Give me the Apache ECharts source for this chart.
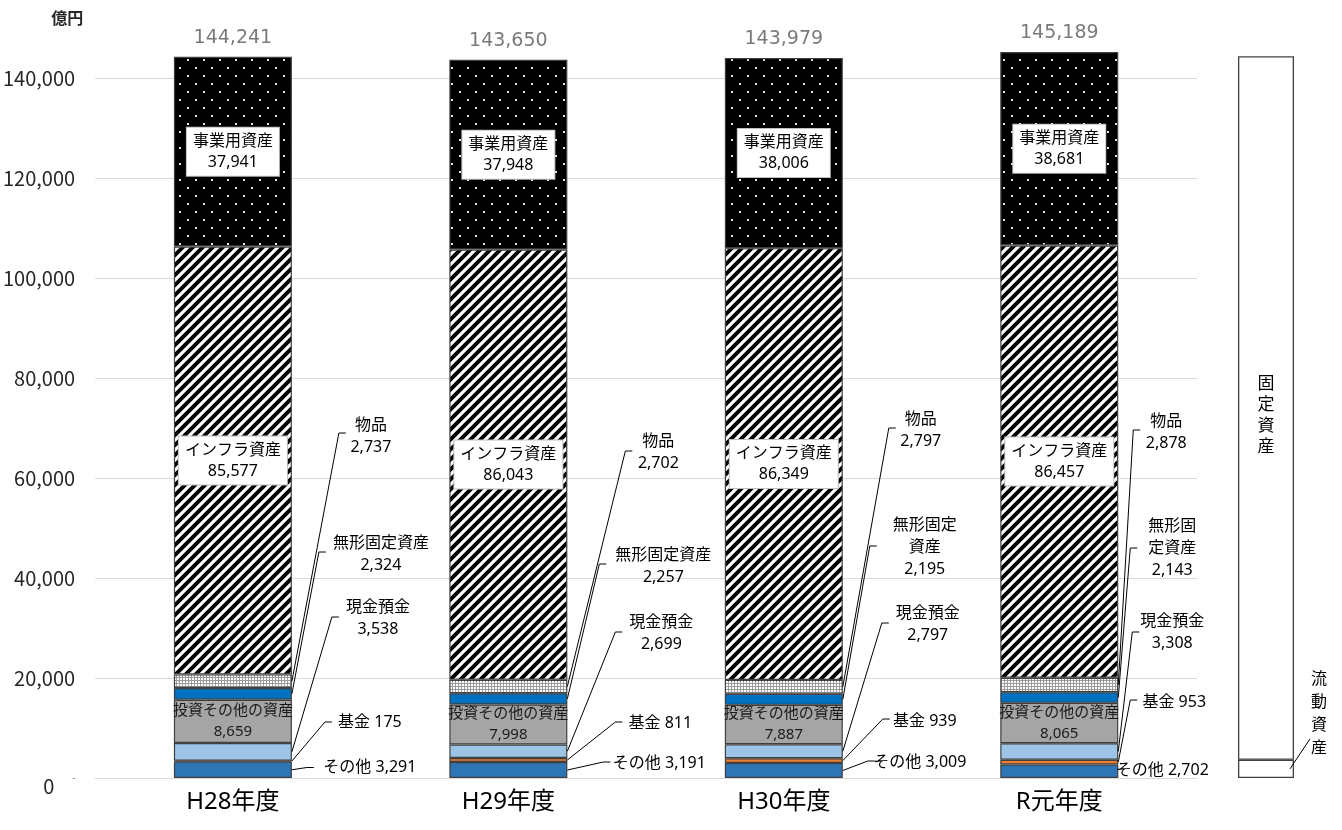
<!DOCTYPE html>
<html>
<head>
<meta charset="utf-8">
<script src="https://cdn.jsdelivr.net/npm/echarts@6/dist/echarts.min.js"></script>
<style>
  html, body { margin: 0; padding: 0; background: #fff; }
  #chart { width: 1342px; height: 830px; }
</style>
</head>
<body>
<div id="chart"></div>
<script>
// ---- data (億円) ----
const categories = ['H28年度', 'H29年度', 'H30年度', 'R元年度'];
const sonota = [3291, 3191, 3009, 2702];      // その他
const kikin  = [175, 811, 939, 953];          // 基金
const genkin = [3538, 2699, 2797, 3308];      // 現金預金
const toushi = [8659, 7998, 7887, 8065];      // 投資その他の資産
const mukei  = [2324, 2257, 2195, 2143];      // 無形固定資産
const buppin = [2737, 2702, 2797, 2878];      // 物品
const infra  = [85577, 86043, 86349, 86457];  // インフラ資産
const jigyou = [37941, 37948, 38006, 38681];  // 事業用資産
const totals = [144241, 143650, 143979, 145189];

// bracket on the right: 流動資産 / 固定資産
const bracketNames  = ['流動資産', '固定資産'];
const bracketValues = [3655, 140700];

// value axis
const yMin = 0, yMax = 150000, yStep = 20000;

// ---- layout ----
const FONT_JP  = "'Noto Sans CJK JP', sans-serif";
const FONT_MIX = "'Noto Sans', 'Noto Sans CJK JP', sans-serif";
const BAR_W = 118;
const fmt = v => Number(v).toLocaleString('en-US');

// callout label placement per category:
// [tick start dx from bar edge (px), tick value, text centre dx (px), text centre value]
const calloutLayout = [
  // 物品
  [[47, 69000, 79, 68400], [58, 65400, 91, 65100], [46, 70000, 78, 69600], [15, 69600, 48, 69200]],
  // 無形固定資産
  [[27, 45200, 89, 44800], [32, 42800, 96, 42400], [27, 46400, 82, 46100], [12, 46000, 54, 45900]],
  // 現金預金
  [[40, 32200, 86, 32000], [48, 29200, 94, 29000], [39, 31000, 85, 30800], [14, 29200, 54, 29100]],
  // 基金
  [[33, 11200, 78, 11200], [48, 11200, 93, 11000], [40, 11800, 82, 11400], [12, 15600, 56, 15200]],
  // その他
  [[15, 2100, 78, 2100], [36, 3200, 92, 3000], [25, 3400, 77, 3200], [null, null, 44, 1600]]
];

// ---- fill patterns ----
function makeTile(w, h, draw) {
  const c = document.createElement('canvas');
  c.width = w; c.height = h;
  draw(c.getContext('2d'), w, h);
  return c;
}
const stripeTile = makeTile(10, 10, (ctx, s) => {
  ctx.fillStyle = '#fff'; ctx.fillRect(0, 0, s, s);
  ctx.strokeStyle = '#000'; ctx.lineWidth = 3.9; ctx.lineCap = 'square';
  ctx.beginPath();
  ctx.moveTo(-s / 2, s / 2); ctx.lineTo(s / 2, -s / 2);
  ctx.moveTo(0, s); ctx.lineTo(s, 0);
  ctx.moveTo(s / 2, s * 1.5); ctx.lineTo(s * 1.5, s / 2);
  ctx.stroke();
});
const meshTile = makeTile(3, 3, (ctx) => {
  ctx.fillStyle = '#9a9a9a'; ctx.fillRect(0, 0, 3, 3);
  ctx.fillStyle = '#fff';
  ctx.fillRect(0, 0, 2, 2);
});
const dotTile = makeTile(16, 16, (ctx) => {
  ctx.fillStyle = '#000'; ctx.fillRect(0, 0, 16, 16);
  ctx.fillStyle = '#e8e8e8';
  ctx.fillRect(3, 3, 2, 2); ctx.fillRect(11, 11, 2, 2);
});

// stacked segments, bottom to top
const segments = [
  { name: 'その他', data: sonota, color: '#2e75b6' },
  { name: '基金', data: kikin, color: '#ed7d31' },
  { name: '現金預金', data: genkin, color: '#9dc3e6' },
  { name: '投資その他の資産', data: toushi, color: '#a5a5a5', inner: 'plain' },
  { name: '無形固定資産', data: mukei, color: '#0070c0' },
  { name: '物品', data: buppin, color: { image: meshTile, repeat: 'repeat' } },
  { name: 'インフラ資産', data: infra, color: { image: stripeTile, repeat: 'repeat' }, inner: 'box' },
  { name: '事業用資産', data: jigyou, color: { image: dotTile, repeat: 'repeat' }, inner: 'box' }
];

// callouts: segment index and text per category
const callouts = [
  { seg: 5, text: c => '物品\n' + fmt(buppin[c]) },
  { seg: 4, text: c => ['無形固定資産', '無形固定資産', '無形固定\n資産', '無形固\n定資産'][c] + '\n' + fmt(mukei[c]) },
  { seg: 2, text: c => '現金預金\n' + fmt(genkin[c]) },
  { seg: 1, text: c => '基金 ' + fmt(kikin[c]) },
  { seg: 0, text: c => 'その他 ' + fmt(sonota[c]) }
];

function stackBase(segIdx, cat) {
  let s = 0;
  for (let i = 0; i < segIdx; i++) s += segments[i].data[cat];
  return s;
}

const barSeries = segments.map(d => {
  let label = { show: false };
  if (d.inner === 'box') {
    label = {
      show: true, position: 'inside',
      formatter: p => p.seriesName + '\n' + fmt(p.value),
      fontFamily: FONT_MIX, fontSize: 16, lineHeight: 21, color: '#000',
      backgroundColor: '#fff', borderColor: '#bfbfbf', borderWidth: 1,
      padding: [3, 6, 3, 6]
    };
  } else if (d.inner === 'plain') {
    label = {
      show: true, position: 'inside',
      formatter: p => p.seriesName + '\n' + fmt(p.value),
      fontFamily: FONT_MIX, fontSize: 15, lineHeight: 21, color: '#1a1a1a'
    };
  }
  return {
    type: 'bar', name: d.name, stack: 'assets', data: d.data,
    barWidth: BAR_W, silent: true,
    itemStyle: { color: d.color, borderColor: '#404040', borderWidth: 1.2 },
    label: label,
    emphasis: { disabled: true }
  };
});

const calloutData = [];
categories.forEach((_, c) => callouts.forEach((_, k) => calloutData.push([c, k])));

const calloutSeries = {
  type: 'custom', xAxisIndex: 0, yAxisIndex: 0, silent: true, clip: false, z: 5,
  data: calloutData,
  renderItem: (params, api) => {
    const c = api.value(0), k = api.value(1);
    const co = callouts[k];
    const base = stackBase(co.seg, c);
    const val = segments[co.seg].data[c];
    const mid = api.coord([c, base + val / 2]);
    const edgeX = mid[0] + BAR_W / 2;
    const lay = calloutLayout[k][c];
    const children = [];
    if (lay[0] !== null) {
      const ty = api.coord([c, lay[1]])[1];
      const p1 = [edgeX + lay[0], ty];
      const p2 = [p1[0] + 7, ty];
      children.push({
        type: 'polyline',
        shape: { points: [[edgeX, mid[1]], p1, p2] },
        style: { stroke: '#000', lineWidth: 1, fill: null }
      });
    }
    children.push({
      type: 'text',
      x: edgeX + lay[2],
      y: api.coord([c, lay[3]])[1],
      style: {
        text: co.text(c), align: 'center', verticalAlign: 'middle',
        fontFamily: FONT_MIX, fontSize: 16, lineHeight: 22, fill: '#000'
      }
    });
    return { type: 'group', children: children };
  }
};

const totalSeries = {
  type: 'scatter', xAxisIndex: 0, yAxisIndex: 0, data: totals,
  symbolSize: 1, itemStyle: { color: 'rgba(0,0,0,0)' }, silent: true, z: 10,
  label: {
    show: true, position: 'top', distance: 9,
    formatter: p => fmt(p.value),
    fontFamily: "'DejaVu Sans', sans-serif", fontSize: 19, color: '#595959'
  }
};

const bracketSeries = bracketNames.map((n, i) => ({
  type: 'bar', name: n, xAxisIndex: 1, yAxisIndex: 1, stack: 'bracket',
  data: [bracketValues[i]], barWidth: '100%', silent: true,
  itemStyle: { color: '#fff', borderColor: '#404040', borderWidth: 1.3 },
  label: i === 1 ? {
    show: true, position: 'inside', offset: [0, 6],
    formatter: p => p.seriesName.split('').join('\n'),
    fontFamily: FONT_JP, fontSize: 17, lineHeight: 21, color: '#000'
  } : { show: false }
}));

const currentLabelSeries = {
  type: 'custom', xAxisIndex: 1, yAxisIndex: 1, silent: true, clip: false, z: 5,
  data: [[0, bracketValues[0]]],
  renderItem: (params, api) => {
    const mid = api.coord([0, api.value(1) / 2]);
    const right = mid[0] + api.size([1, 0])[0] / 2;
    return {
      type: 'group',
      children: [
        { type: 'line', shape: { x1: right - 4, y1: mid[1], x2: right + 16, y2: mid[1] - 30 },
          style: { stroke: '#000', lineWidth: 1 } },
        { type: 'text', x: right + 25, y: mid[1] - 56,
          style: { text: bracketNames[0].split('').join('\n'), align: 'center', verticalAlign: 'middle',
                   fontFamily: FONT_JP, fontSize: 16, lineHeight: 23, fill: '#000' } }
      ]
    };
  }
};

const chart = echarts.init(document.getElementById('chart'));
chart.setOption({
  animation: false,
  backgroundColor: '#fff',
  grid: [
    { left: 94, right: 145, top: 28, bottom: 52 },
    { left: 1238, width: 56, top: 28, bottom: 52 }
  ],
  xAxis: [
    {
      type: 'category', gridIndex: 0, data: categories,
      axisLine: { lineStyle: { color: '#d9d9d9', width: 1 } },
      axisTick: { show: false },
      axisLabel: { fontFamily: FONT_MIX, fontSize: 24, color: '#000', margin: 12 }
    },
    { type: 'category', gridIndex: 1, data: [''], show: false }
  ],
  yAxis: [
    {
      type: 'value', gridIndex: 0, min: yMin, max: yMax, interval: yStep,
      name: '億円', nameLocation: 'end', nameGap: 10,
      nameTextStyle: { fontFamily: FONT_JP, fontSize: 16, fontWeight: 'bold', color: '#262626',
                       align: 'right', verticalAlign: 'middle', padding: [0, 12, 0, 0] },
      axisLine: { show: false }, axisTick: { show: false },
      splitLine: { show: true, showMaxLine: false, lineStyle: { color: '#d9d9d9', width: 1 } },
      axisLabel: {
        showMaxLabel: false, margin: 20, fontFamily: FONT_JP, fontSize: 20, color: '#262626',
        formatter: v => v === 0 ? '{z|0}{d|-}' : fmt(v),
        rich: {
          z: { fontFamily: FONT_JP, fontSize: 20, color: '#262626', padding: [16, 18, 0, 0] },
          d: { fontFamily: FONT_JP, fontSize: 8, color: '#262626' }
        }
      }
    },
    { type: 'value', gridIndex: 1, min: yMin, max: yMax, show: false }
  ],
  series: [...barSeries, calloutSeries, totalSeries, ...bracketSeries, currentLabelSeries]
});
</script>
</body>
</html>
